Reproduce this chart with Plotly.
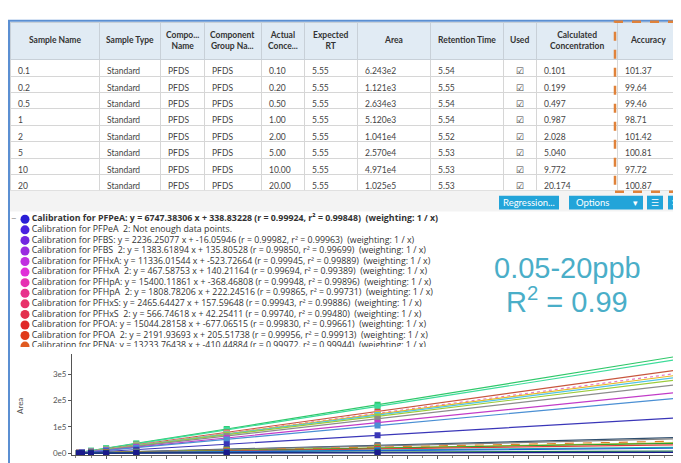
import plotly.graph_objects as go

# the figure is drawn 8px in from the left edge of the window
OX, OY = 8, 0
W, H = 673, 463


def px(x):
    return (x - OX) / W


def py(y):
    return 1 - (y - OY) / H


# ---- table data ----
sample_names = ["0.1", "0.2", "0.5", "1", "2", "5", "10", "20"]
sample_types = ["Standard"] * 8
comp_names = ["PFDS"] * 8
group_names = ["PFDS"] * 8
actual_conc = ["0.10", "0.20", "0.50", "1.00", "2.00", "5.00", "10.00", "20.00"]
expected_rt = ["5.55"] * 8
areas = ["6.243e2", "1.121e3", "2.634e3", "5.120e3", "1.041e4", "2.570e4", "4.971e4", "1.025e5"]
ret_times = ["5.54", "5.55", "5.54", "5.54", "5.52", "5.53", "5.53", "5.53"]
used = ["☑"] * 8
calc_conc = ["0.101", "0.199", "0.497", "0.987", "2.028", "5.040", "9.772", "20.174"]
accuracy = ["101.37", "99.64", "99.46", "98.71", "101.42", "100.81", "97.72", "100.87"]

headers = ["Sample Name", "Sample Type", "Compo...<br>Name", "Component<br>Group Na...",
           "Actual<br>Conce...", "Expected<br>RT", "Area", "Retention Time", "Used",
           "Calculated<br>Concentration", "Accuracy"]
col_widths = [89, 61, 44, 57, 43, 53, 73, 73, 33, 81, 61]

# ---- calibration list ----
calib_lines = [
    "<b>Calibration for PFPeA: y = 6747.38306 x + 338.83228 (r = 0.99924, r² = 0.99848)  (weighting: 1 / x)</b>",
    "Calibration for PFPeA  2: Not enough data points.",
    "Calibration for PFBS: y = 2236.25077 x + -16.05946 (r = 0.99982, r² = 0.99963)  (weighting: 1 / x)",
    "Calibration for PFBS  2: y = 1383.61894 x + 135.80528 (r = 0.99850, r² = 0.99699)  (weighting: 1 / x)",
    "Calibration for PFHxA: y = 11336.01544 x + -523.72664 (r = 0.99945, r² = 0.99889)  (weighting: 1 / x)",
    "Calibration for PFHxA  2: y = 467.58753 x + 140.21164 (r = 0.99694, r² = 0.99389)  (weighting: 1 / x)",
    "Calibration for PFHpA: y = 15400.11861 x + -368.46808 (r = 0.99948, r² = 0.99896)  (weighting: 1 / x)",
    "Calibration for PFHpA  2: y = 1808.78206 x + 222.24516 (r = 0.99865, r² = 0.99731)  (weighting: 1 / x)",
    "Calibration for PFHxS: y = 2465.64427 x + 157.59648 (r = 0.99943, r² = 0.99886)  (weighting: 1 / x)",
    "Calibration for PFHxS  2: y = 566.74618 x + 42.25411 (r = 0.99740, r² = 0.99480)  (weighting: 1 / x)",
    "Calibration for PFOA: y = 15044.28158 x + -677.06515 (r = 0.99830, r² = 0.99661)  (weighting: 1 / x)",
    "Calibration for PFOA  2: y = 2191.93693 x + 205.51738 (r = 0.99956, r² = 0.99913)  (weighting: 1 / x)",
    "Calibration for PFNA: y = 13233.76438 x + -410.44884 (r = 0.99972, r² = 0.99944)  (weighting: 1 / x)",
]
calib_colors = ["#2a1fd6", "#4a22e0", "#7326e0", "#9a2ce0", "#c030e0", "#e030d8", "#e631b2",
                "#e8318c", "#e8316a", "#e3304e", "#e02828", "#e03a1a", "#e05a20"]

# ---- chart data ----
levels = [0.1, 0.2, 0.5, 1, 2, 5, 10, 20]
series_colors = ["#2fc86a", "#3ddc9a", "#c8553d", "#e67ac8", "#e8b923", "#4fc3e8", "#9ccc3a",
                 "#8c8c8c", "#c23cc8", "#4a8fd4", "#3a36b8", "#2f4f6f", "#7f7f7f", "#e07b2a",
                 "#c8c030", "#2ca02c", "#e03c3c", "#20b2aa", "#1f5fd0", "#1e7a4a", "#1a1a8c"]
series_dash = ["solid", "solid", "solid", "dot", "solid", "solid", "solid", "solid", "solid",
               "solid", "solid", "solid", "solid", "dash", "solid", "solid", "solid", "solid",
               "solid", "solid", "solid"]
series_values = [
    [1800, 3700, 9200, 18500, 37000, 92000, 184000, 370000],
    [1750, 3600, 9000, 18000, 36000, 89000, 178000, 358000],
    [1600, 3200, 8000, 16000, 32000, 79000, 158000, 318000],
    [1500, 3050, 7600, 15200, 30500, 76000, 152000, 305000],
    [1500, 3000, 7500, 15000, 30000, 74000, 149000, 298000],
    [1450, 2900, 7300, 14600, 29000, 72000, 145000, 290000],
    [1400, 2800, 7000, 14000, 28000, 70000, 140000, 280000],
    [1300, 2600, 6500, 13100, 26200, 65000, 131000, 262000],
    [1150, 2300, 5800, 11600, 23200, 58000, 116000, 232000],
    [1050, 2100, 5200, 10500, 21000, 52000, 105000, 210000],
    [680, 1350, 3400, 6750, 13500, 34000, 68000, 135000],
    [300, 600, 1500, 3000, 6000, 15000, 30000, 60000],
    [270, 550, 1400, 2750, 5500, 13800, 27500, 55000],
    [230, 460, 1150, 2300, 4600, 11500, 23000, 46000],
    [200, 400, 1000, 2000, 4000, 10000, 20000, 40000],
    [190, 380, 950, 1900, 3800, 9500, 19000, 38000],
    [160, 320, 800, 1600, 3200, 8000, 16000, 32000],
    [110, 220, 560, 1120, 2240, 5600, 11200, 22400],
    [95, 190, 470, 950, 1900, 4700, 9500, 19000],
    [40, 80, 200, 400, 800, 2000, 4000, 8000],
    [15, 30, 80, 150, 300, 800, 1500, 3000],
]
x_tick_vals = list(range(1, 20))
y_tick_vals = [0, 100000, 200000, 300000]
y_tick_text = ["0e0", "1e5", "2e5", "3e5"]

FONT = "Lato"
LFONT = "Open Sans"
BTN = "#22a4d9"
TABLE_X0 = 10

fig = go.Figure()

fig.add_trace(go.Table(
    domain=dict(x=[px(TABLE_X0), px(TABLE_X0 + sum(col_widths))], y=[py(186), py(15)]),
    columnwidth=col_widths,
    header=dict(values=[""] * len(headers), height=37,
                fill_color="#e1ebf4", line=dict(color="#c8d0d8", width=1)),
    cells=dict(values=[sample_names, sample_types, comp_names, group_names, actual_conc,
                       expected_rt, areas, ret_times, used, calc_conc, accuracy],
               height=16.4, fill_color="white", line=dict(color="#d6d6d6", width=1),
               align=["left"] * 8 + ["center", "left", "left"],
               font=dict(family=FONT, size=8.5, color="#444")),
))

for vals, col, dash in zip(series_values, series_colors, series_dash):
    fig.add_trace(go.Scatter(
        x=levels, y=vals, mode="lines+markers", xaxis="x", yaxis="y",
        line=dict(color=col, width=1.2, dash=dash),
        marker=dict(color=col, size=6, symbol="square"),
        showlegend=False, hoverinfo="skip",
    ))

fig.add_trace(go.Scatter(
    x=[0] * len(calib_lines), y=list(range(len(calib_lines))), xaxis="x2", yaxis="y2",
    mode="markers+text", text=calib_lines, textposition="middle right",
    textfont=dict(family=LFONT, size=8.8, color="#333"),
    marker=dict(color=calib_colors, size=9), showlegend=False, hoverinfo="skip",
))

shapes = [
    dict(type="rect", xref="paper", yref="paper", x0=px(10), x1=1, y0=py(207), y1=py(186),
         fillcolor="#f3f3f3", line=dict(width=0), layer="below"),
    dict(type="line", xref="paper", yref="paper", x0=0, x1=1, y0=py(13), y1=py(13),
         line=dict(color="#5b8fd2", width=2)),
    dict(type="line", xref="paper", yref="paper", x0=px(9), x1=px(9), y0=0, y1=py(13),
         line=dict(color="#5b8fd2", width=2)),
    dict(type="rect", xref="paper", yref="paper", x0=px(615), x1=px(678), y0=py(187), y1=py(14),
         line=dict(color="#e0823a", width=2.5, dash="dash")),
    dict(type="rect", xref="paper", yref="paper", x0=px(499), x1=px(559),
         y0=py(205), y1=py(191), fillcolor=BTN, line=dict(width=0)),
    dict(type="rect", xref="paper", yref="paper", x0=px(569), x1=px(643),
         y0=py(205), y1=py(191), fillcolor=BTN, line=dict(width=0)),
    dict(type="rect", xref="paper", yref="paper", x0=px(647), x1=px(663),
         y0=py(205), y1=py(191), fillcolor=BTN, line=dict(width=0)),
    dict(type="rect", xref="paper", yref="paper", x0=px(668), x1=px(690),
         y0=py(205), y1=py(191), fillcolor=BTN, line=dict(width=0)),
]

annotations = [
    dict(x=px(529), y=py(198), text="Regression...", font=dict(family=FONT, size=9.5, color="white")),
    dict(x=px(574), y=py(198), text="Options", xanchor="left", font=dict(family=FONT, size=9.5, color="white")),
    dict(x=px(635), y=py(198), text="▾", font=dict(family=LFONT, size=9, color="white")),
    dict(x=px(655), y=py(198), text="☰", font=dict(family=LFONT, size=9, color="white")),
    dict(x=px(675), y=py(198), text="✕", font=dict(family=LFONT, size=9, color="white")),
    dict(x=px(13), y=py(214), text="−", font=dict(family=LFONT, size=9, color="#888")),
    dict(x=px(567), y=py(265), text="0.05-20ppb", font=dict(family="Liberation Sans", size=29, color="#4aaec8")),
    dict(x=px(567), y=py(297), text="R<sup>2</sup> = 0.99", font=dict(family="Liberation Sans", size=29, color="#4aaec8")),
    dict(x=px(20), y=py(405), text="Area", textangle=-90, font=dict(family=FONT, size=8, color="#555")),
]

# header labels, centred in each column
left = TABLE_X0
for h, w in zip(headers, col_widths):
    annotations.append(dict(x=px(left + w / 2), y=py(33), text=f"<b>{h}</b>",
                            font=dict(family=FONT, size=8.5, color="#333")))
    left += w

for a in annotations:
    a.update(xref="paper", yref="paper", showarrow=False)
    a.setdefault("xanchor", "center")
    a.setdefault("yanchor", "middle")

fig.update_layout(
    width=W, height=H, margin=dict(l=0, r=0, t=0, b=0),
    paper_bgcolor="white", plot_bgcolor="white",
    xaxis=dict(domain=[px(72), 1], range=[-0.13, 20.06], tickvals=x_tick_vals,
               showline=True, linecolor="#555", ticks="outside", ticklen=3, tickcolor="#555",
               minor=dict(dtick=0.5, ticks="outside", ticklen=2, tickcolor="#888"),
               tickfont=dict(family=FONT, size=8, color="#555"), showgrid=False, zeroline=False),
    yaxis=dict(domain=[py(455), py(352)], range=[-7500, 378000], tickvals=y_tick_vals,
               ticktext=y_tick_text, showline=True, linecolor="#555", ticks="outside",
               ticklen=3, tickcolor="#555", tickfont=dict(family=FONT, size=8, color="#555"),
               showgrid=False, zeroline=False),
    xaxis2=dict(domain=[0, 1], range=[-(25 - OX), W - (25 - OX)], visible=False, anchor="y2"),
    yaxis2=dict(domain=[py(345), py(207)], range=[12.09, -0.744], visible=False, anchor="x2"),
    shapes=shapes, annotations=annotations,
)

fig.write_html("out.html")
